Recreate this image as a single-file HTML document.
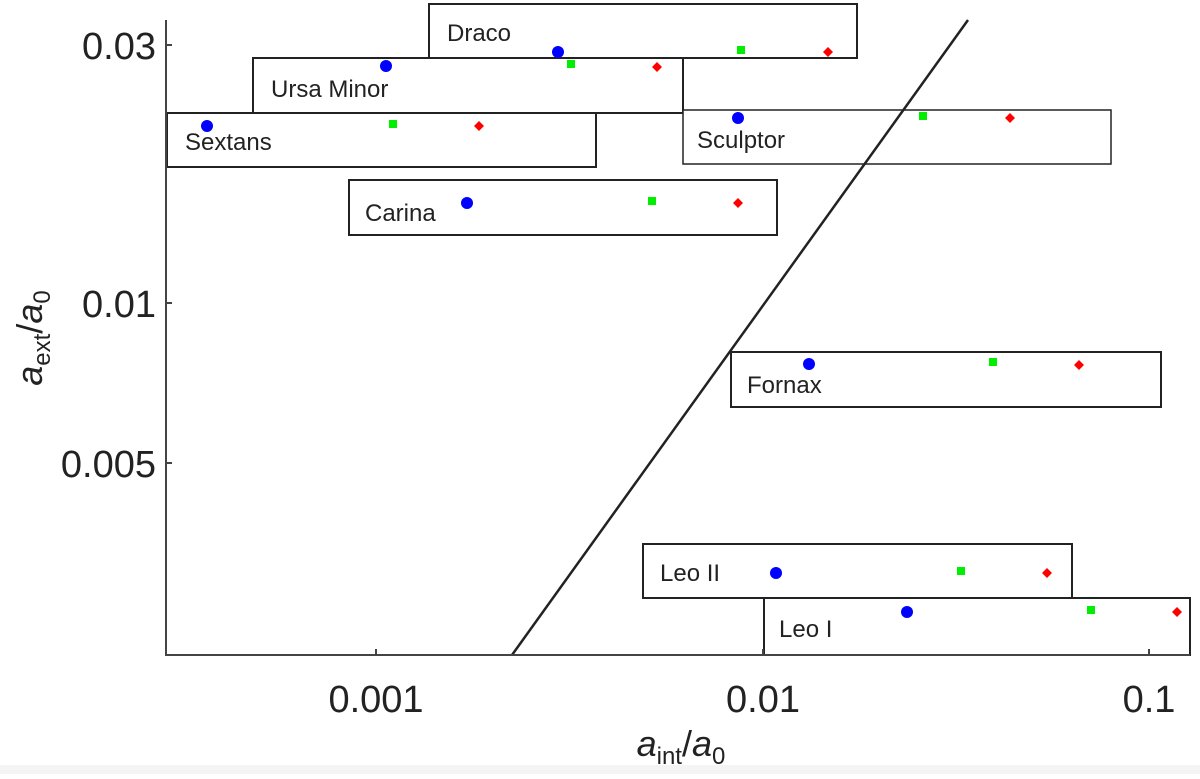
<!DOCTYPE html>
<html><head><style>
body{margin:0;background:#fff;}
svg text{font-family:"Liberation Sans",sans-serif;}
</style></head><body>
<svg width="1200" height="774" xmlns="http://www.w3.org/2000/svg">
<rect width="1200" height="774" fill="#fff"/>
<rect x="0" y="765" width="1200" height="9" fill="#f4f4f4"/>
<g stroke="#222" stroke-width="2" fill="#fff">
<rect x="429" y="4" width="428" height="54"/>
<rect x="253" y="58" width="430" height="55"/>
<rect x="167" y="113" width="429" height="54"/>
<rect x="683" y="110" width="428" height="54" stroke-width="1.5"/>
<rect x="349" y="180" width="428" height="55"/>
<rect x="731" y="352" width="430" height="55"/>
<rect x="643" y="544" width="429" height="54"/>
<rect x="764" y="598" width="426" height="57"/>
</g>
<g font-size="24" fill="#222">
<text x="447" y="41">Draco</text>
<text x="271" y="97">Ursa Minor</text>
<text x="185" y="150">Sextans</text>
<text x="697" y="148">Sculptor</text>
<text x="365" y="221">Carina</text>
<text x="747" y="393">Fornax</text>
<text x="660" y="581">Leo II</text>
<text x="779" y="637">Leo I</text>
</g>
<g fill="#0000ff">
<circle cx="558" cy="52" r="6"/><circle cx="386" cy="66" r="6"/><circle cx="207" cy="126" r="6"/>
<circle cx="738" cy="118" r="6"/><circle cx="467" cy="203" r="6"/><circle cx="809" cy="364" r="6"/>
<circle cx="776" cy="573" r="6"/><circle cx="907" cy="612" r="6"/>
</g>
<g fill="#00ee00">
<rect x="737" y="46" width="8" height="8"/><rect x="567" y="60" width="8" height="8"/><rect x="389" y="120" width="8" height="8"/>
<rect x="919" y="112" width="8" height="8"/><rect x="648" y="197" width="8" height="8"/><rect x="989" y="358" width="8" height="8"/>
<rect x="957" y="567" width="8" height="8"/><rect x="1087" y="606" width="8" height="8"/>
</g>
<g fill="#ff0000">
<polygon points="828,47 833,52 828,57 823,52"/><polygon points="657,62 662,67 657,72 652,67"/>
<polygon points="479,121 484,126 479,131 474,126"/><polygon points="1010,113 1015,118 1010,123 1005,118"/>
<polygon points="738,198 743,203 738,208 733,203"/><polygon points="1079,360 1084,365 1079,370 1074,365"/>
<polygon points="1047,568 1052,573 1047,578 1042,573"/><polygon points="1177,607 1182,612 1177,617 1172,612"/>
</g>
<line x1="512" y1="655" x2="968" y2="20" stroke="#222" stroke-width="2.5"/>
<g stroke="#444" stroke-width="2">
<line x1="166" y1="20" x2="166" y2="656"/>
<line x1="166" y1="655" x2="1190" y2="655"/>
<line x1="166" y1="45" x2="172" y2="45"/><line x1="166" y1="303" x2="172" y2="303"/><line x1="166" y1="463" x2="172" y2="463"/>
<line x1="376" y1="655" x2="376" y2="649"/><line x1="763" y1="655" x2="763" y2="649"/><line x1="1149" y1="655" x2="1149" y2="649"/>
</g>
<g font-size="38" fill="#222">
<text x="156" y="59" text-anchor="end">0.03</text>
<text x="156" y="317" text-anchor="end">0.01</text>
<text x="156" y="477" text-anchor="end">0.005</text>
<text x="376" y="712" text-anchor="middle">0.001</text>
<text x="763" y="712" text-anchor="middle">0.01</text>
<text x="1149" y="712" text-anchor="middle">0.1</text>
</g>
<text x="681" y="756" font-size="36" fill="#222" text-anchor="middle"><tspan font-style="italic">a</tspan><tspan font-size="24" dy="8">int</tspan><tspan dy="-8">/</tspan><tspan font-style="italic">a</tspan><tspan font-size="24" dy="8">0</tspan></text>
<text transform="translate(42,338) rotate(-90)" font-size="36" fill="#222" text-anchor="middle"><tspan font-style="italic">a</tspan><tspan font-size="24" dy="8">ext</tspan><tspan dy="-8">/</tspan><tspan font-style="italic">a</tspan><tspan font-size="24" dy="8">0</tspan></text>
</svg>
</body></html>
